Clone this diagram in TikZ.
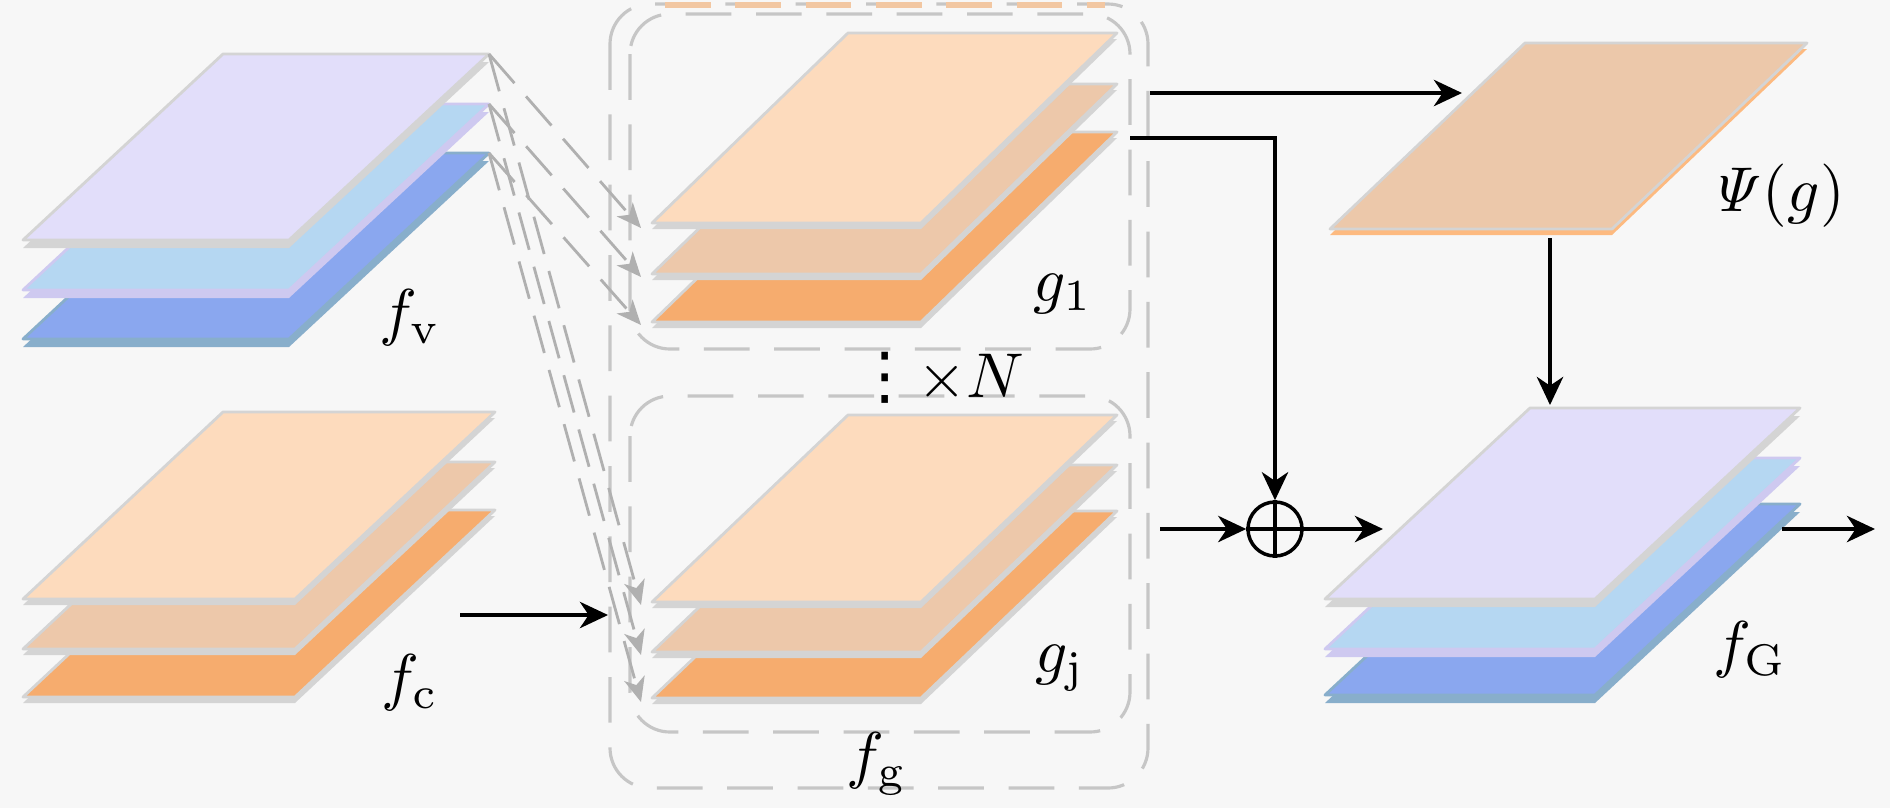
\documentclass[tikz,border=0pt]{standalone}
\usepackage[no-math]{fontspec}
\newfontfamily\djv{DejaVu Sans}
\usetikzlibrary{arrows.meta}
\definecolor{bg}{HTML}{F7F7F7}
\definecolor{lav}{HTML}{E2DEFA}
\definecolor{lblue}{HTML}{B5D7F2}
\definecolor{lavedge}{HTML}{CEC9F0}
\definecolor{blue3}{HTML}{8AA7EF}
\definecolor{steel}{HTML}{88AECB}
\definecolor{peach}{HTML}{FDDBBD}
\definecolor{tanc}{HTML}{EDC8AA}
\definecolor{orng}{HTML}{F6AC6E}
\definecolor{psic}{HTML}{ECC8AA}
\definecolor{psistrip}{HTML}{FDBA80}
\definecolor{edgegray}{HTML}{D4D4D4}
\definecolor{boxgray}{HTML}{C6C6C6}
\definecolor{arrgray}{HTML}{B0B0B0}
\definecolor{toporange}{HTML}{F2C7A2}
\newcommand\labtxt[1]{\scalebox{1.8}{#1}}
% #1 top-left x, #2 top y, #3 width, #4 slant, #5 height, #6 fill, #7 edge, #8 strip
\newcommand\plg[8]{%
  \fill[#7] (#1,#2+#8) -- ++(#3,0) -- ++(-#4,#5) -- ++(-#3,0) -- cycle;
  \filldraw[fill=#6,draw=#7,line width=0.8pt,line join=round] (#1,#2) -- ++(#3,0) -- ++(-#4,#5) -- ++(-#3,0) -- cycle;
}
\begin{document}
\begin{tikzpicture}[x=0.01cm,y=-0.01cm,
  lab/.style={inner sep=0pt},
  boxline/.style={draw=boxgray,line width=0.9pt,dash pattern=on 13pt off 7pt,rounded corners=0.4cm},
  garrow/.style={draw=arrgray,line width=0.8pt,dash pattern=on 11pt off 5pt,-{Stealth[length=7pt,width=6pt,inset=2pt]}},
  barrow/.style={draw=black,line width=1pt,-{Stealth[length=8pt,width=7.5pt,inset=2.5pt]}}]
\useasboundingbox (0,0) rectangle (1890,808);
\fill[bg] (0,0) rectangle (1890,808);

% dashed containers
\draw[boxline] (610,4) rectangle (1148,788);
\draw[boxline] (630,14) rectangle (1130,349);
\draw[boxline] (630,396) rectangle (1130,732);
\draw[draw=toporange,line width=1.6pt,dash pattern=on 13pt off 7pt] (665,5) -- (1105,5);

% f_v stack
\plg{223}{153}{266}{200}{186}{blue3}{steel}{8}
\plg{223}{104}{266}{200}{186}{lblue}{lavedge}{8}
\plg{223}{54}{266}{200}{186}{lav}{edgegray}{8}

% f_c stack
\plg{223}{510}{272}{200}{187}{orng}{edgegray}{6}
\plg{223}{462}{272}{200}{187}{tanc}{edgegray}{6}
\plg{223}{412}{272}{200}{187}{peach}{edgegray}{6}

% g_1 stack
\plg{848}{132}{269}{196}{190}{orng}{edgegray}{6}
\plg{848}{84}{269}{196}{190}{tanc}{edgegray}{6}
\plg{848}{33}{269}{196}{190}{peach}{edgegray}{6}

% g_j stack
\plg{848}{511}{269}{196}{187}{orng}{edgegray}{6}
\plg{848}{465}{269}{196}{187}{tanc}{edgegray}{6}
\plg{848}{415}{269}{196}{187}{peach}{edgegray}{6}

% Psi
\fill[psistrip] (1525,49) -- ++(282,0) -- ++(-195,186) -- ++(-282,0) -- cycle;
\filldraw[fill=psic,draw=edgegray,line width=0.8pt,line join=round] (1525,43) -- ++(282,0) -- ++(-195,186) -- ++(-282,0) -- cycle;

% f_G stack
\plg{1530}{504}{270}{205}{191}{blue3}{steel}{8}
\plg{1530}{458}{270}{205}{191}{lblue}{lavedge}{8}
\plg{1530}{408}{270}{205}{191}{lav}{edgegray}{8}

% dashed gray connectors
\coordinate (v1) at (489,54);
\coordinate (v2) at (489,104);
\coordinate (v3) at (489,153);
\coordinate (a1) at (641,228);
\coordinate (a2) at (641,277);
\coordinate (a3) at (641,325);
\coordinate (b1) at (641,605);
\coordinate (b2) at (641,655);
\coordinate (b3) at (641,702);
\draw[garrow] (v1) -- (a1);
\draw[garrow] (v2) -- (a2);
\draw[garrow] (v3) -- (a3);
\draw[garrow] (v1) -- (b1);
\draw[garrow] (v2) -- (b2);
\draw[garrow] (v3) -- (b3);

% black connectors
\coordinate (fcR) at (460,615);
\coordinate (gjL) at (608,615);
\draw[barrow] (fcR) -- (gjL);
\coordinate (boxR1) at (1150,93);
\coordinate (psiL) at (1462,93);
\draw[barrow] (boxR1) -- (psiL);
\node[circle,draw,line width=1pt,minimum size=0.54cm,inner sep=0pt] (plus) at (1275,529) {};
\draw[line width=1pt] (plus.north) -- (plus.south) (plus.west) -- (plus.east);
\coordinate (g1R) at (1130,138);
\draw[barrow] (g1R) -| (plus.north);
\coordinate (boxR2) at (1160,529);
\draw[barrow] (boxR2) -- (plus.west);
\coordinate (fGL) at (1383,529);
\draw[barrow] (plus.east) -- (fGL);
\coordinate (psiB) at (1550,238);
\coordinate (fGT) at (1550,405);
\draw[barrow] (psiB) -- (fGT);
\coordinate (fGR) at (1782,529);
\coordinate (outp) at (1875,529);
\draw[barrow] (fGR) -- (outp);

% labels
\node[lab] (fv) at (410,318) {\labtxt{$f_{\mathrm{v}}$}};
\node[lab] (fc) at (410,683) {\labtxt{$f_{\mathrm{c}}$}};
\node[lab] (g1) at (1063,294) {\labtxt{$g_{1}$}};
\node[lab] (gj) at (1060,668) {\labtxt{$g_{\mathrm{j}}$}};
\node[lab] (fg) at (877,764) {\labtxt{$f_{\mathrm{g}}$}};
\node[lab,anchor=base west] (rep) at (853,397) {\labtxt{{\djv ⋮}$\times N$}};
\node[lab] (psi) at (1776,196) {\labtxt{$\mathit{\Psi}(g)$}};
\node[lab] (fG) at (1750,650) {\labtxt{$f_{\mathrm{G}}$}};
\end{tikzpicture}
\end{document}
